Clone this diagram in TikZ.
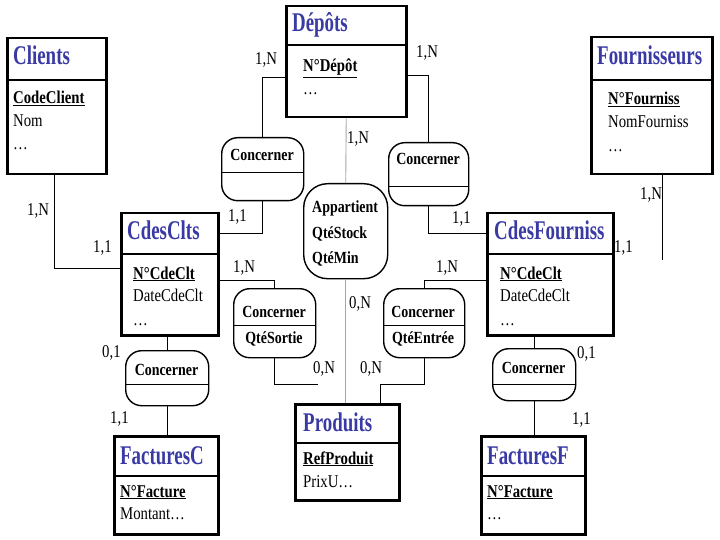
\documentclass[tikz,border=0pt]{standalone}
\usepackage{fontspec}
\setmainfont{Liberation Serif}[FakeStretch=0.82]
\newfontfamily\titlefont{Liberation Serif}[FakeStretch=0.70]
\usetikzlibrary{calc}
\definecolor{titleblue}{RGB}{58,58,165}
\tikzset{
 ent/.style={draw, line width=2.5pt, inner sep=0pt, anchor=north west},
 assoc/.style={draw, line width=1.4pt, rounded corners=16pt, inner sep=0pt, anchor=north west},
 sepline/.style={line width=2.5pt},
 splitline/.style={line width=1pt},
 conn/.style={line width=0.9pt},
 gconn/.style={line width=0.9pt, draw=gray!70},
 ttl/.style={anchor=base west, inner sep=0pt, text=titleblue, font=\titlefont\bfseries\fontsize{27}{30}\selectfont},
 attr/.style={anchor=base west, inner sep=0pt, font=\fontsize{18}{20}\selectfont},
 keyattr/.style={anchor=base west, inner sep=0pt, font=\bfseries\fontsize{18}{20}\selectfont},
 atxt/.style={anchor=base, inner sep=0pt, font=\bfseries\fontsize{17}{19}\selectfont},
 apptxt/.style={anchor=base west, inner sep=0pt, font=\bfseries\fontsize{17}{19}\selectfont},
 card/.style={anchor=base west, inner sep=0pt, font=\fontsize{18}{20}\selectfont},
}
\begin{document}
\begin{tikzpicture}[x=1pt,y=-1pt]
\fill[white] (0,0) rectangle (720,540);
\useasboundingbox (0,0) rectangle (720,540);

% ---------- entities ----------
\node[ent, minimum width=99pt, minimum height=136pt] (clients) at (6,37) {};
\draw[sepline] ($(clients.north west)+(0,43)$) -- ($(clients.north east)+(0,43)$);
\node[ttl] (tclients) at (13,65) {Clients};
\node[keyattr] (kclients) at (13,104) {\underline{CodeClient}};
\node[attr] (a1clients) at (13,127) {Nom};
\node[attr] (a2clients) at (13,150) {…};

\node[ent, minimum width=120pt, minimum height=111pt] (depots) at (285,5) {};
\draw[sepline] ($(depots.north west)+(0,40)$) -- ($(depots.north east)+(0,40)$);
\node[ttl] (tdepots) at (292,32) {Dépôts};
\node[keyattr] (kdepots) at (303,72) {\underline{N°Dépôt}};
\node[attr] (a1depots) at (303,95) {…};

\node[ent, minimum width=121pt, minimum height=137pt] (fourn) at (590,36) {};
\draw[sepline] ($(fourn.north west)+(0,44)$) -- ($(fourn.north east)+(0,44)$);
\node[ttl] (tfourn) at (597,65) {Fournisseurs};
\node[keyattr] (kfourn) at (608,105) {\underline{N°Fourniss}};
\node[attr] (a1fourn) at (608,128) {NomFourniss};
\node[attr] (a2fourn) at (608,152) {…};

\node[ent, minimum width=97pt, minimum height=122pt] (cdesclts) at (120,212) {};
\draw[sepline] ($(cdesclts.north west)+(0,42)$) -- ($(cdesclts.north east)+(0,42)$);
\node[ttl] (tcdesclts) at (127,240) {CdesClts};
\node[keyattr] (kcdesclts) at (133,279) {\underline{N°CdeClt}};
\node[attr] (a1cdesclts) at (133,301) {DateCdeClt};
\node[attr] (a2cdesclts) at (133,325) {…};

\node[ent, minimum width=126pt, minimum height=122pt] (cdesf) at (486,212) {};
\draw[sepline] ($(cdesf.north west)+(0,42)$) -- ($(cdesf.north east)+(0,42)$);
\node[ttl] (tcdesf) at (494,240) {CdesFourniss};
\node[keyattr] (kcdesf) at (500,279) {\underline{N°CdeClt}};
\node[attr] (a1cdesf) at (500,301) {DateCdeClt};
\node[attr] (a2cdesf) at (500,325) {…};

\node[ent, minimum width=104pt, minimum height=96pt] (produits) at (294,403) {};
\draw[sepline] ($(produits.north west)+(0,40)$) -- ($(produits.north east)+(0,40)$);
\node[ttl] (tproduits) at (303,431) {Produits};
\node[keyattr] (kproduits) at (303,464) {\underline{RefProduit}};
\node[attr] (a1produits) at (303,487) {PrixU…};

\node[ent, minimum width=104pt, minimum height=98pt] (facc) at (113,435) {};
\draw[sepline] ($(facc.north west)+(0,41)$) -- ($(facc.north east)+(0,41)$);
\node[ttl] (tfacc) at (120,464) {FacturesC};
\node[keyattr] (kfacc) at (120,497) {\underline{N°Facture}};
\node[attr] (a1facc) at (120,519) {Montant…};

\node[ent, minimum width=104pt, minimum height=98pt] (facf) at (480,435) {};
\draw[sepline] ($(facf.north west)+(0,41)$) -- ($(facf.north east)+(0,41)$);
\node[ttl] (tfacf) at (487,464) {FacturesF};
\node[keyattr] (kfacf) at (487,497) {\underline{N°Facture}};
\node[attr] (a1facf) at (487,519) {…};

% ---------- associations ----------
\node[assoc, minimum width=82pt, minimum height=63pt] (c1) at (221,137) {};
\draw[splitline] ($(c1.north west)+(0,36)$) -- ($(c1.north east)+(0,36)$);
\node[atxt] (tc1) at (262,161) {Concerner};

\node[assoc, minimum width=80pt, minimum height=63pt] (c2) at (388,142) {};
\draw[splitline] ($(c2.north west)+(0,45)$) -- ($(c2.north east)+(0,45)$);
\node[atxt] (tc2) at (428,165) {Concerner};

\node[assoc, rounded corners=24pt, minimum width=84pt, minimum height=95pt] (app) at (303,183) {};
\node[apptxt] (tapp1) at (312,212) {Appartient};
\node[apptxt] (tapp2) at (312,239) {QtéStock};
\node[apptxt] (tapp3) at (312,263) {QtéMin};

\node[assoc, minimum width=82pt, minimum height=69pt] (c3) at (233,288) {};
\draw[splitline] ($(c3.north west)+(0,37)$) -- ($(c3.north east)+(0,37)$);
\node[atxt] (tc3a) at (274,317) {Concerner};
\node[atxt] (tc3b) at (274,343) {QtéSortie};

\node[assoc, minimum width=81pt, minimum height=69pt] (c4) at (383,288) {};
\draw[splitline] ($(c4.north west)+(0,37)$) -- ($(c4.north east)+(0,37)$);
\node[atxt] (tc4a) at (423,317) {Concerner};
\node[atxt] (tc4b) at (423,343) {QtéEntrée};

\node[assoc, minimum width=83pt, minimum height=55pt] (c5) at (125,350) {};
\draw[splitline] ($(c5.north west)+(0,34)$) -- ($(c5.north east)+(0,34)$);
\node[atxt] (tc5) at (166.5,375) {Concerner};

\node[assoc, minimum width=83pt, minimum height=52pt] (c6) at (492,348) {};
\draw[splitline] ($(c6.north west)+(0,36)$) -- ($(c6.north east)+(0,36)$);
\node[atxt] (tc6) at (533.5,373) {Concerner};

% ---------- connectors ----------
\draw[conn] ([xshift=-2.5pt]clients.south) |- ([yshift=6pt]cdesclts.west);
\draw[conn] ([yshift=-16pt]depots.west) -| (c1.north);
\draw[conn] (c1.south) |- ([yshift=41pt]cdesclts.east);
\draw[conn] ([yshift=-14pt]depots.east) -| (c2.north);
\draw[conn] (c2.south) |- ([yshift=41pt]cdesf.west);
\draw[gconn] (depots.south) -- (app.north);
\draw[gconn] (app.south) -- (app.south |- produits.north);
\draw[conn] ([yshift=-6pt]cdesclts.east) -| (c3.north);
\coordinate (e1) at (318,384);
\draw[conn] (c3.south) |- (e1);
\draw[conn] ([yshift=-6pt]cdesf.west) -| (c4.north);
\coordinate (k1) at (380,384);
\draw[conn] (c4.south) |- (k1) -- (k1 |- produits.north);
\draw[conn] (c5.north |- cdesclts.south) -- (c5.north);
\draw[conn] (c5.south) -- (c5.south |- facc.north);
\draw[conn] (c6.north |- cdesf.south) -- (c6.north);
\draw[conn] (c6.south) -- (c6.south |- facf.north);
\coordinate (f1) at (662,260);
\draw[conn] (f1 |- fourn.south) -- (f1);

% ---------- cardinalities ----------
\node[card] (l1) at (255,65) {1,N};
\node[card] (l2) at (416,58) {1,N};
\node[card] (l3) at (347,144) {1,N};
\node[card] (l4) at (27,215) {1,N};
\node[card] (l5) at (93,252) {1,1};
\node[card] (l6) at (228,222) {1,1};
\node[card] (l7) at (452,223) {1,1};
\node[card] (l8) at (233,272) {1,N};
\node[card] (l9) at (436,272) {1,N};
\node[card] (l10) at (349,308) {0,N};
\node[card] (l11) at (313,373) {0,N};
\node[card] (l12) at (360,373) {0,N};
\node[card] (l13) at (102,357) {0,1};
\node[card] (l14) at (110,423) {1,1};
\node[card] (l15) at (577,358) {0,1};
\node[card] (l16) at (572,424) {1,1};
\node[card] (l17) at (640,200) {1,N};
\node[card] (l18) at (614,252) {1,1};
\end{tikzpicture}
\end{document}
